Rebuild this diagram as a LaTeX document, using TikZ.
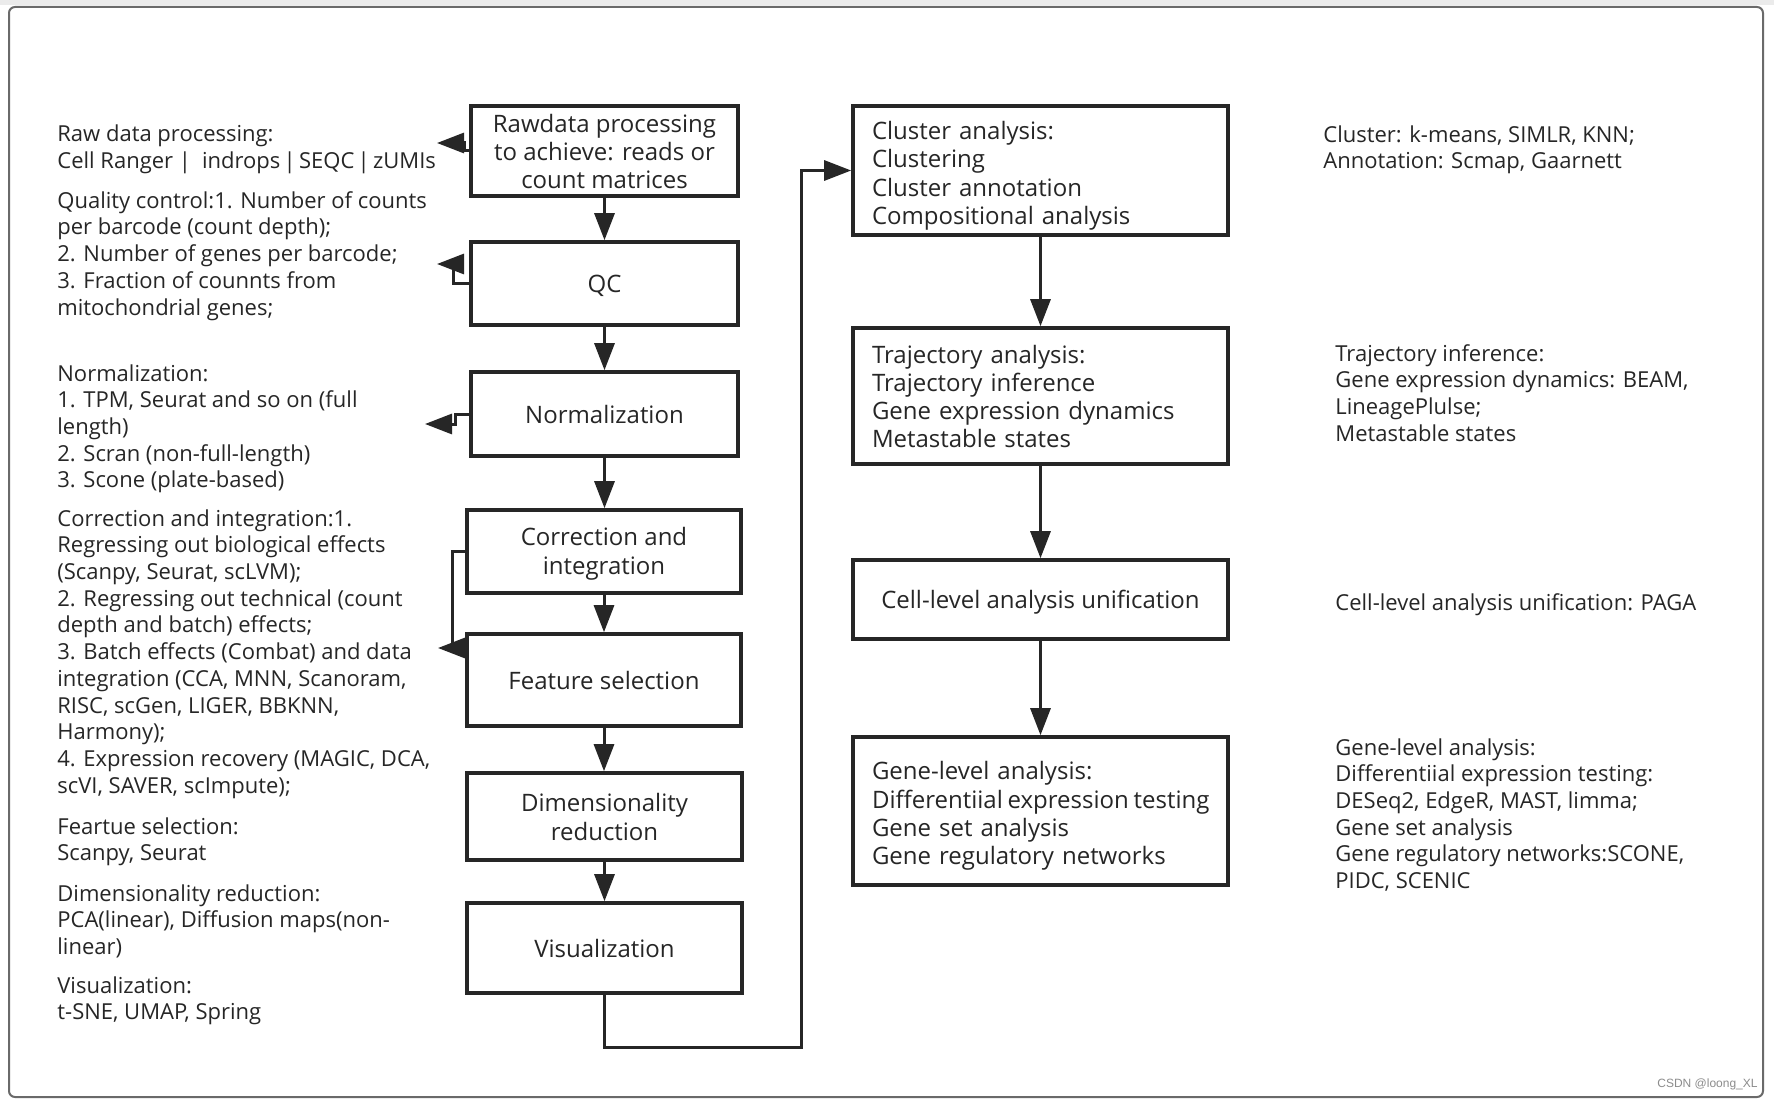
\documentclass[tikz,border=0pt]{standalone}
\usepackage{fontspec}
\setmainfont{Open Sans}
\newfontfamily\wmfont{Liberation Sans}
\usetikzlibrary{arrows.meta}
\definecolor{ink}{HTML}{262626}
\definecolor{framec}{HTML}{6a6a6a}
\newcommand\mynotefont{\fontsize{11}{13.35}\selectfont}
\newcommand\myboxfont{\fontsize{12}{14.15}\selectfont}
\newcommand\tst{\rule{0pt}{11.5pt}}
\newcommand\tstb{\rule{0pt}{14.3pt}}
\newcommand\tsd{\rule[-2pt]{0pt}{0pt}}
\begin{document}
\begin{tikzpicture}[x=0.5pt,y=-0.5pt,
  box/.style={draw=ink, line width=1.8pt, fill=white, inner sep=0pt, align=center, font=\myboxfont, text=ink},
  lbox/.style={draw=ink, line width=1.8pt, fill=white, inner ysep=0pt, inner xsep=9.5pt, text width=168.5pt, align=left, font=\myboxfont, text=ink},
  conn/.style={draw=ink, line width=1.5pt, -{Triangle[length=13.5pt,width=10pt]}},
  note/.style={anchor=north west, inner sep=0pt, align=left, font=\mynotefont, text=ink}]
\useasboundingbox (0,0) rectangle (1774,1102);
\fill[white] (0,0) rectangle (1774,1102);
\fill[black!8] (0,0) rectangle (1774,5);
\draw[framec, line width=1pt, rounded corners=3pt] (9,7) rectangle (1763,1097);

% left column boxes
\node[box, minimum width=133.5pt, minimum height=45pt] (raw) at (604.5,151) {\tst Rawdata processing\\to achieve: reads or\\count matrices\tsd};
\node[box, minimum width=133.5pt, minimum height=41.5pt] (qc) at (604.5,283.5) {\tst QC\tsd};
\node[box, minimum width=133.5pt, minimum height=42pt] (norm) at (604.5,414) {\tst Normalization\tsd};
\node[box, minimum width=137pt, minimum height=41.5pt] (corr) at (604,551.5) {\tst Correction and\\integration\tsd};
\node[box, minimum width=137pt, minimum height=46pt] (feat) at (604,680) {\tst Feature selection\tsd};
\node[box, minimum width=137.5pt, minimum height=43.5pt] (dim) at (604.5,816.5) {\tst Dimensionality\\reduction\tsd};
\node[box, minimum width=137.5pt, minimum height=45pt] (vis) at (604.5,948) {\tst Visualization\tsd};

% right column boxes
\node[lbox, minimum height=64.5pt] (clu) at (1040.5,170.5) {\tstb Cluster analysis:\\Clustering\\Cluster annotation\\Compositional analysis\tsd};
\node[lbox, minimum height=68pt] (traj) at (1040.5,396) {\tst Trajectory analysis:\\Trajectory inference\\Gene expression dynamics\\Metastable states\tsd};
\node[box, minimum width=187.5pt, minimum height=39.5pt] (cell) at (1040.5,599.5) {\tst Cell-level analysis unification\tsd};
\node[lbox, minimum height=74pt] (gene) at (1040.5,811) {\tstb Gene-level analysis:\\\mbox{\spaceskip=0.2em\relax Differentiial expression testing}\\Gene set analysis\\Gene regulatory networks\tsd};

% vertical connectors
\draw[conn] (raw.south) -- (raw.south |- qc.north);
\draw[conn] (qc.south) -- (qc.south |- norm.north);
\draw[conn] (norm.south) -- (norm.south |- corr.north);
\draw[conn] (corr.south) -- (corr.south |- feat.north);
\draw[conn] (feat.south) -- (feat.south |- dim.north);
\draw[conn] (dim.south) -- (dim.south |- vis.north);
\draw[conn] (clu.south) -- (clu.south |- traj.north);
\draw[conn] (traj.south) -- (traj.south |- cell.north);
\draw[conn] (cell.south) -- (cell.south |- gene.north);

% side arrows to notes
\coordinate (r1) at (464,151); \coordinate (r2) at (464,143); \coordinate (r3) at (437,143);
\draw[conn] (raw.west) -- (r1) -- (r2) -- (r3);
\coordinate (q1) at (453,283.5); \coordinate (q2) at (453,264); \coordinate (q3) at (437,264);
\draw[conn] (qc.west) -- (q1) -- (q2) -- (q3);
\coordinate (n1) at (455,414); \coordinate (n2) at (455,424); \coordinate (n3) at (425,424);
\draw[conn] (norm.west) -- (n1) -- (n2) -- (n3);
\coordinate (c1) at (452,551.5); \coordinate (c2) at (452,648); \coordinate (c3) at (438,648);
\draw[conn] (corr.west) -- (c1) -- (c2) -- (c3);

% main loop to cluster analysis
\coordinate (b1) at (604.5,1047); \coordinate (b2) at (801,1047);
\draw[conn] (vis.south) -- (b1) -- (b2) |- (clu.west);

% left notes
\node[note] (nraw) at (57,124.5) {Raw data processing:\\Cell Ranger {\spaceskip=0.15em\relax|\hspace{0.5em}indrops | SEQC | zUMIs}};
\node[note] (nqc) at (57,191) {Quality control:1. Number of counts\\per barcode (count depth);\\2. Number of genes per barcode;\\3. Fraction of counnts from\\mitochondrial genes;};
\node[note] (nnorm) at (57,364) {Normalization:\\1. TPM, Seurat and so on (full\\length)\\2. Scran (non-full-length)\\3. Scone (plate-based)};
\node[note] (ncorr) at (57,509) {Correction and integration:1.\\Regressing out biological effects\\(Scanpy, Seurat, scLVM);\\2. Regressing out technical (count\\depth and batch) effects;\\3. Batch effects (Combat) and data\\integration (CCA, MNN, Scanoram,\\RISC, scGen, LIGER, BBKNN,\\Harmony);\\4. Expression recovery (MAGIC, DCA,\\scVI, SAVER, scImpute);};
\node[note] (nfeat) at (57,817) {Feartue selection:\\Scanpy, Seurat};
\node[note] (ndim) at (57,884) {Dimensionality reduction:\\PCA(linear), Diffusion maps(non-\\linear)};
\node[note] (nvis) at (57,976) {Visualization:\\t-SNE, UMAP, Spring};

% right notes
\node[note] (nclu) at (1323,125) {Cluster: k-means, SIMLR, KNN;\\Annotation: Scmap, Gaarnett};
\node[note] (ntraj) at (1335,344) {Trajectory inference:\\Gene expression dynamics: BEAM,\\LineagePlulse;\\Metastable states};
\node[note] (ncell) at (1335,593) {Cell-level analysis unification: PAGA};
\node[note] (ngene) at (1335,738) {Gene-level analysis:\\Differentiial expression testing:\\DESeq2, EdgeR, MAST, limma;\\Gene set analysis\\Gene regulatory networks:SCONE,\\PIDC, SCENIC};

\node[anchor=base east, inner sep=0pt, font=\wmfont\fontsize{6}{7}\selectfont, text=black!45] (wm) at (1758,1087) {CSDN @loong\_XL};
\end{tikzpicture}
\end{document}
